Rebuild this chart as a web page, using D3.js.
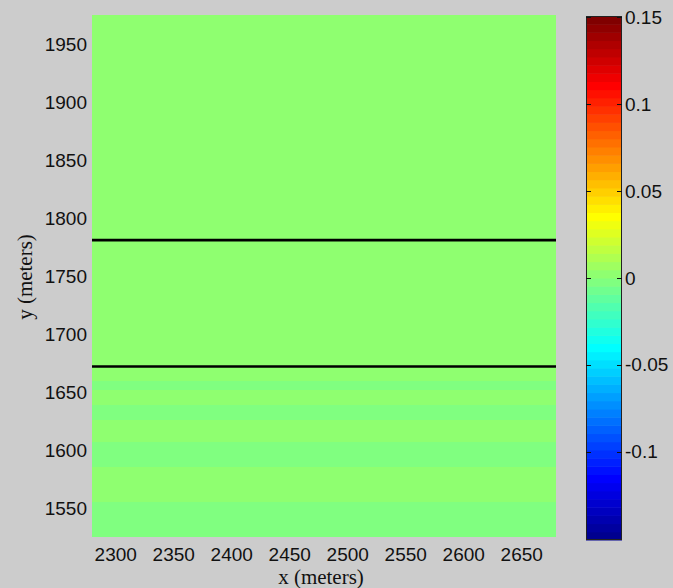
<!DOCTYPE html>
<html>
<head>
<meta charset="utf-8">
<script src="https://cdn.jsdelivr.net/npm/d3@7"></script>
<style>
  html, body { margin: 0; padding: 0; background: #cccccc; }
  svg { display: block; }
  .tick text { font-family: "Liberation Sans", Arial, sans-serif; font-size: 19px; fill: #111; }
  .axis-label { font-family: "Liberation Serif", "Times New Roman", serif; font-size: 21px; fill: #111; }
</style>
</head>
<body>
<svg id="chart" width="673" height="588"></svg>
<script>
// Field extent in metres
const xDomain = [2280, 2680];
const yDomain = [1525, 1975];

// Horizontal field bands: edges (top to bottom) and the value in each band
const bandEdges = [1975, 1659.7, 1651.7, 1638.8, 1625.9, 1607.2, 1585.3, 1555.4, 1525];
const bandValues = [0.002, -0.002, 0.002, -0.002, 0.002, -0.002, 0.002, -0.002];

// Interface lines (y, metres)
const interfaceY = [1781, 1672];

// Tick values
const xTicks = [2300, 2350, 2400, 2450, 2500, 2550, 2600, 2650];
const yTicks = [1550, 1600, 1650, 1700, 1750, 1800, 1850, 1900, 1950];
const cTicks = [-0.1, -0.05, 0, 0.05, 0.1, 0.15];
const cTickLabels = ["-0.1", "-0.05", "0", "0.05", "0.1", "0.15"];

// Colour limits
const cLimits = [-0.1508, 0.1508];

// 64-level jet colormap
function jet(m) {
  const n = Math.ceil(m / 4);
  const u = [];
  for (let i = 1; i <= n; i++) u.push(i / n);
  for (let i = 1; i < n; i++) u.push(1);
  for (let i = n; i >= 1; i--) u.push(i / n);
  const gOff = Math.ceil(n / 2) - (m % 4 === 1 ? 1 : 0);
  const rows = Array.from({length: m}, () => [0, 0, 0]);
  u.forEach((v, i) => {
    const g = gOff + i + 1, r = g + n, b = g - n;
    if (r >= 1 && r <= m) rows[r - 1][0] = v;
    if (g >= 1 && g <= m) rows[g - 1][1] = v;
    if (b >= 1 && b <= m) rows[b - 1][2] = v;
  });
  return rows.map(([r, g, b]) => d3.rgb(r * 255, g * 255, b * 255).formatHex());
}
const jetColors = jet(64);

const svg = d3.select("#chart");
svg.append("rect").attr("width", 673).attr("height", 588).attr("fill", "#cccccc");

const plot = {left: 92, right: 556, top: 15, bottom: 537};
const x = d3.scaleLinear().domain(xDomain).range([plot.left, plot.right]);
const y = d3.scaleLinear().domain(yDomain).range([plot.bottom, plot.top]);
const color = d3.scaleQuantize().domain(cLimits).range(jetColors);

// Field bands
const bands = bandValues.map((v, i) => ({top: bandEdges[i], bottom: bandEdges[i + 1], value: v}));
svg.append("g").selectAll("rect").data(bands).join("rect")
  .attr("x", x(xDomain[0]))
  .attr("width", x(xDomain[1]) - x(xDomain[0]))
  .attr("y", d => y(d.top))
  .attr("height", d => y(d.bottom) - y(d.top))
  .attr("fill", d => color(d.value))
  .attr("shape-rendering", "crispEdges");

// Interface lines
svg.append("g").selectAll("line").data(interfaceY).join("line")
  .attr("x1", x(xDomain[0])).attr("x2", x(xDomain[1]))
  .attr("y1", d => y(d)).attr("y2", d => y(d))
  .attr("stroke", "#000").attr("stroke-width", 2.7);

// Axes (labels only)
const xAxis = svg.append("g").attr("transform", `translate(0,${plot.bottom})`)
  .call(d3.axisBottom(x).tickValues(xTicks).tickSize(0).tickPadding(11).tickFormat(d3.format("d")));
xAxis.select(".domain").remove();

const yAxis = svg.append("g").attr("transform", `translate(${plot.left},0)`)
  .call(d3.axisLeft(y).tickValues(yTicks).tickSize(0).tickPadding(5).tickFormat(d3.format("d")));
yAxis.select(".domain").remove();

svg.append("text").attr("class", "axis-label")
  .attr("x", (plot.left + plot.right) / 2 - 3).attr("y", 584)
  .attr("text-anchor", "middle").text("x (meters)");

svg.append("text").attr("class", "axis-label")
  .attr("transform", `translate(32,${(plot.top + plot.bottom) / 2 + 1}) rotate(-90)`)
  .attr("text-anchor", "middle").text("y (meters)");

// Colour bar
const cb = {left: 586, right: 622, top: 16, bottom: 540};
const cy = d3.scaleLinear().domain(cLimits).range([cb.bottom, cb.top]);
const step = (cLimits[1] - cLimits[0]) / jetColors.length;
svg.append("g").selectAll("rect").data(jetColors).join("rect")
  .attr("x", cb.left).attr("width", cb.right - cb.left)
  .attr("y", (d, i) => cy(cLimits[0] + (i + 1) * step))
  .attr("height", (d, i) => cy(cLimits[0] + i * step) - cy(cLimits[0] + (i + 1) * step) + 0.5)
  .attr("fill", d => d);

svg.append("rect")
  .attr("x", cb.left + 0.5).attr("y", cb.top + 0.5)
  .attr("width", cb.right - cb.left - 1).attr("height", cb.bottom - cb.top - 1)
  .attr("fill", "none").attr("stroke", "#222").attr("stroke-width", 1);

const cTickG = svg.append("g");
cTickG.selectAll("line.l").data(cTicks).join("line").attr("class", "l")
  .attr("x1", cb.left).attr("x2", cb.left + 5)
  .attr("y1", d => Math.round(cy(d)) + 0.5).attr("y2", d => Math.round(cy(d)) + 0.5)
  .attr("stroke", "#111").attr("stroke-width", 1);
cTickG.selectAll("line.r").data(cTicks).join("line").attr("class", "r")
  .attr("x1", cb.right - 5).attr("x2", cb.right)
  .attr("y1", d => Math.round(cy(d)) + 0.5).attr("y2", d => Math.round(cy(d)) + 0.5)
  .attr("stroke", "#111").attr("stroke-width", 1);

const cAxis = svg.append("g").attr("transform", `translate(${cb.right},0)`)
  .call(d3.axisRight(cy).tickValues(cTicks).tickSize(0).tickPadding(3)
    .tickFormat((d, i) => cTickLabels[i]));
cAxis.select(".domain").remove();
</script>
</body>
</html>
